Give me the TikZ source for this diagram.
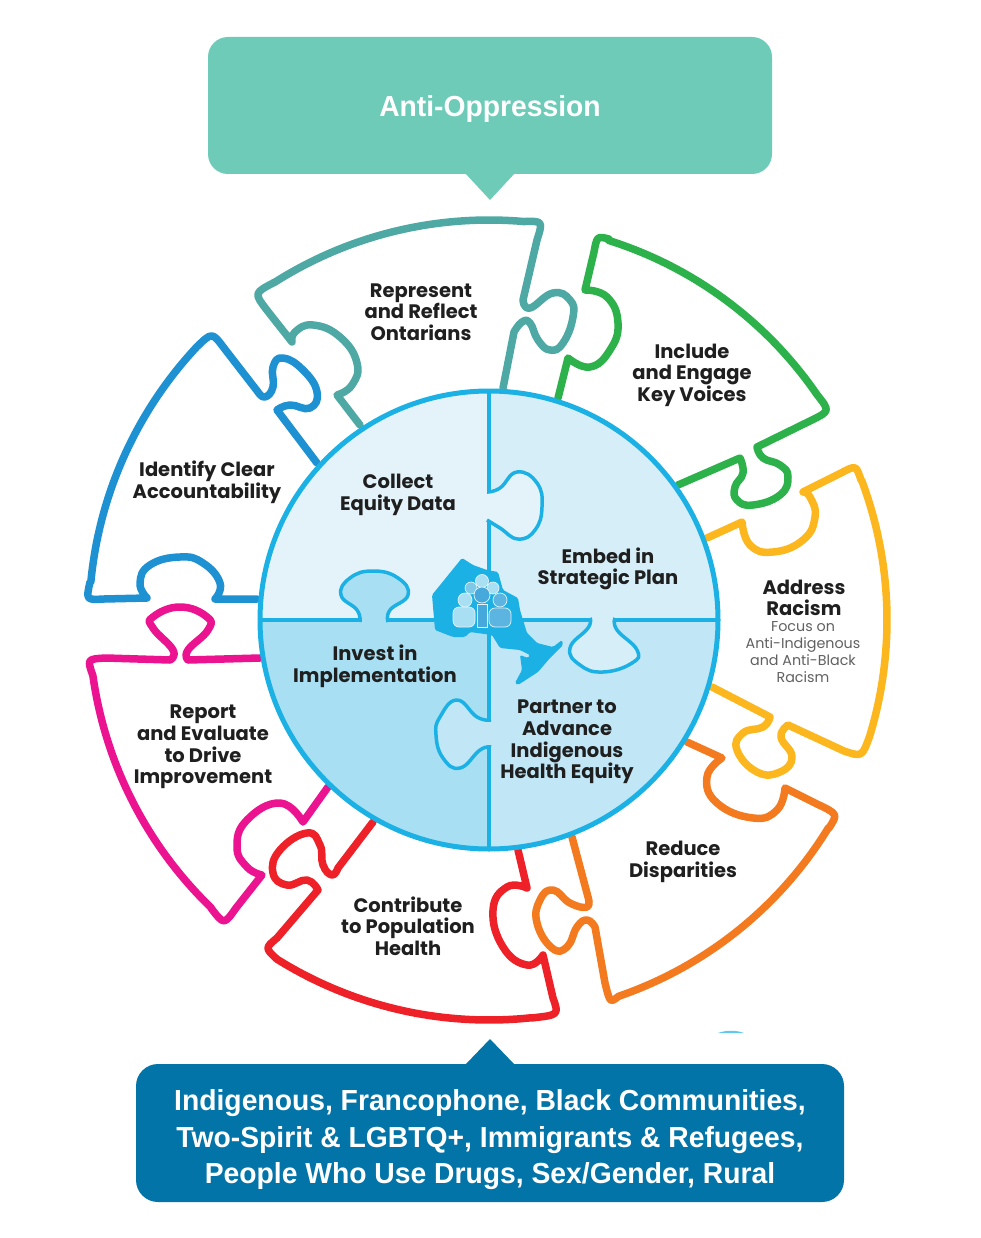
\documentclass[tikz,border=0pt]{standalone}
\usepackage{fontspec}
\setmainfont{Poppins}
\newfontfamily\bannerfont{Liberation Sans}
\usepackage{xcolor}
\definecolor{tealline}{HTML}{4EA9A5}
\definecolor{greenline}{HTML}{2DB14B}
\definecolor{yellowline}{HTML}{FDB71E}
\definecolor{orangeline}{HTML}{F47A20}
\definecolor{redline}{HTML}{EE2028}
\definecolor{pinkline}{HTML}{EC1390}
\definecolor{blueline}{HTML}{1D91D2}
\definecolor{ringblue}{HTML}{1CB1E4}
\definecolor{quadTL}{HTML}{E4F3FA}
\definecolor{quadTR}{HTML}{D6EEF8}
\definecolor{quadBR}{HTML}{C1E6F6}
\definecolor{quadBL}{HTML}{A8DFF2}
\definecolor{topbanner}{HTML}{6DCBB8}
\definecolor{lowbanner}{HTML}{0274A8}
% rim of the puzzle, around the centre of the disc
\newcommand{\rimarc}[3]{-- plot[domain=#2:#3, samples=40] ({489+#1*cos(\x)},{620-#1*sin(\x)})}

\begin{document}
\begin{tikzpicture}[
    x=1pt, y=-1pt,
    piece/.style={line width=7.5pt, line join=round, line cap=round},
    curl/.style={smooth, tension=.8},
    tab/.style={line width=3.5pt, draw=ringblue, line join=round},
    label/.style={font=\bfseries\fontsize{19.5}{21.6}\selectfont, align=center, text=black!88, inner sep=0pt},
    sublabel/.style={font=\fontsize{14.3}{16.8}\selectfont, align=center, text=black!62, inner sep=0pt},
    banner/.style={text=white, align=center, inner sep=0pt, xscale=.975},
    person/.style={line width=0.7pt, draw=quadTL}
]
\useasboundingbox (0,0) rectangle (980,1238);
\fill[white] (0,0) rectangle (980,1238);

% Banners
\fill[topbanner, rounded corners=20pt] (208,37) rectangle (772,174);
\fill[topbanner] (465,173) -- (490,200) -- (515,173) -- cycle;
\fill[lowbanner, rounded corners=22pt] (136,1064) rectangle (844,1202);
\fill[lowbanner] (465,1065) -- (490,1039) -- (515,1065) -- cycle;
\fill[ringblue!70] (718,1033) .. controls (726,1030) and (736,1030) .. (744,1033) -- cycle;

% Outer pieces
\draw[piece, tealline] (360,425) -- (337,395)
  -- plot[curl] coordinates {(337,395) (352,385) (357,363) (340,337) (313,325) (295,332) (292,342)}
  -- (266,309) .. controls (254,293) .. (275,282) \rimarc{400}{122.5}{85} .. controls (543,221) .. (537,240)
  -- (523,300)
  -- plot[curl] coordinates {(523,300) (530,308) (553,293) (570,300) (573,317) (563,343) (550,350) (538,340) (530,323) (522,322) (514,332)}
  -- (503,388);

\draw[piece, greenline] (558,398) -- (568,358)
  -- plot[curl] coordinates {(568,358) (590,367) (610,350) (618,323) (607,297) (585,290)}
  -- (594,252) .. controls (597,236) .. (609,239) \rimarc{398}{72.5}{34.5} .. controls (830,411) .. (812,420)
  -- (757,447)
  -- plot[curl] coordinates {(757,447) (763,458) (780,465) (788,477) (780,495) (753,505) (737,500) (735,487) (743,473) (740,458)}
  -- (678,485);

\draw[piece, yellowline] (707,538) -- (742,522)
  -- plot[curl] coordinates {(742,522) (750,545) (773,552) (803,540) (815,517) (810,497) (803,492)}
  -- (841,473) .. controls (856,465) .. (861,480) \rimarc{398}{20.5}{-17} .. controls (862,757) .. (844,751)
  -- (788,725)
  -- plot[curl] coordinates {(788,725) (781,737) (792,757) (780,772) (757,772) (737,750) (743,733) (763,727) (770,717)}
  -- (712,687);

\draw[piece, orangeline] (687,742) -- (722,758)
  -- plot[curl] coordinates {(722,758) (707,777) (717,803) (753,818) (777,810) (785,788)}
  -- (817,804) .. controls (838,814) .. (829,828) \rimarc{398}{-31.5}{-71} .. controls (610,1003) .. (605,983)
  -- (595,927)
  -- plot[curl] coordinates {(595,927) (587,920) (577,927) (567,947) (552,948) (537,923) (540,900) (553,890) (570,903) (587,907) (588,897)}
  -- (572,837);

\draw[piece, redline] (518,850) -- (527,888)
  -- plot[curl] coordinates {(527,888) (507,887) (493,910) (503,947) (527,965) (543,955)}
  -- (553,998) .. controls (559,1015) .. (531,1018) \rimarc{400}{-84}{-122} .. controls (265,948) .. (277,938)
  -- (318,890)
  -- plot[curl] coordinates {(318,890) (307,880) (287,885) (273,873) (280,850) (307,833) (320,845) (323,865) (332,875) (338,868)}
  -- (373,822);

\draw[piece, pinkline] (328,787) -- (303,822)
  -- plot[curl] coordinates {(303,822) (280,803) (247,820) (237,847) (247,867) (262,875)}
  -- (236,908) .. controls (224,925) .. (211,908) \rimarc{400}{-134}{-172} .. controls (87,659) .. (106,658)
  -- (170,660)
  -- plot[curl] coordinates {(170,660) (173,650) (153,628) (153,617) (180,607) (207,617) (208,630) (188,650) (188,660)}
  -- (260,658);

\draw[piece, blueline] (257,599) -- (215,599)
  -- plot[curl] coordinates {(215,599) (220,583) (203,563) (180,557) (150,565) (140,583) (147,598)}
  -- (104,599) .. controls (86,600) .. (90,582) \rimarc{400}{174.5}{137} .. controls (212,332) .. (224,348)
  -- (258,392)
  -- plot[curl] coordinates {(258,392) (265,397) (273,387) (273,367) (283,358) (303,370) (317,392) (310,408) (290,405) (277,410)}
  -- (317,463);

% Centre disc
\begin{scope}
\clip (489,620) circle (229);
\fill[quadTL] (260,391) rectangle (489,620);
\fill[quadTR] (489,391) rectangle (718,620);
\fill[quadBR] (489,620) rectangle (718,849);
\fill[quadBL] (260,620) rectangle (489,849);
\end{scope}
\draw[ringblue, line width=3.5pt] (489,391) -- (489,849);
\draw[ringblue, line width=3.5pt] (260,620) -- (718,620);

% Tabs of the disc
\filldraw[tab, fill=quadTL] plot[curl] coordinates {(487,492) (500,488) (517,472) (537,483) (542,507) (535,530) (518,539) (500,528) (487,520)};
\filldraw[tab, fill=quadTR] plot[curl] coordinates {(590,618) (588,628) (570,648) (580,665) (603,672) (632,663) (637,650) (617,630) (615,618)};
\filldraw[tab, fill=quadBR] plot[curl] coordinates {(491,720) (477,717) (457,700) (440,717) (436,735) (443,758) (460,768) (480,750) (491,747)};
\filldraw[tab, fill=quadBL] plot[curl] coordinates {(360,622) (357,610) (341,595) (350,578) (373,571) (398,578) (408,595) (390,610) (388,622)};
\draw[ringblue, line width=5pt] (489,620) circle (229);

% Ontario and the people on it
\fill[ringblue, rounded corners=1.5pt] (462,558) -- (473,565) -- (487,570) -- (498,572) -- (503,590) -- (518,598) -- (520,610)
  -- (527,633) -- (537,643) -- (553,647) -- (562,640) -- (563,645) -- (550,658) -- (538,672) -- (518,685)
  -- (515,683) -- (522,670) -- (520,655) -- (528,658) -- (530,655) -- (520,650) -- (500,648) -- (492,635)
  -- (470,632) -- (465,637) -- (453,637) -- (435,630) -- (432,595) -- cycle;
\filldraw[person, fill=quadBL] (482,581) circle (6.5);
\filldraw[person, fill=quadBL!70!blueline] (471,588) circle (6);
\filldraw[person, fill=quadBL] (493,588) circle (6);
\filldraw[person, fill=quadBL, rounded corners=6pt] (453,627) -- (453,607) -- (475,607) -- (475,627) -- cycle;
\filldraw[person, fill=quadBL] (465,600) circle (7);
\filldraw[person, fill=quadBL!30!blueline] (477,604) rectangle (487,627);
\filldraw[person, fill=quadBL!30!blueline] (482,595) circle (8);
\filldraw[person, fill=quadBL!45!blueline, rounded corners=6pt] (489,627) -- (489,608) -- (511,608) -- (511,627) -- cycle;
\filldraw[person, fill=quadBL!45!blueline] (500,600) circle (7);

% Labels
\node[banner, font=\bannerfont\bfseries\fontsize{29}{30}\selectfont] (antioppression) at (490,109) {Anti-Oppression};
\node[banner, font=\bannerfont\bfseries\fontsize{29}{36.5}\selectfont] (communities) at (490,1140) {Indigenous, Francophone, Black Communities,\\Two-Spirit \& LGBTQ+, Immigrants \& Refugees,\\People Who Use Drugs, Sex/Gender, Rural};

\node[label] (represent) at (421,312) {Represent\\and Reflect\\Ontarians};
\node[label] (include) at (692,375) {Include\\and Engage\\Key Voices};
\node[label] (racism) at (804,598) {Address\\Racism};
\node[sublabel] (focus) at (803,652) {Focus on\\Anti-Indigenous\\and Anti-Black\\Racism};
\node[label] (reduce) at (683,862) {Reduce\\Disparities};
\node[label] (contribute) at (408,926) {Contribute\\to Population\\Health};
\node[label] (report) at (203,747) {Report\\and Evaluate\\to Drive\\Improvement};
\node[label] (identify) at (207,482) {Identify Clear\\Accountability};
\node[label] (collect) at (398,495) {Collect\\Equity Data};
\node[label] (embed) at (608,569) {Embed in\\Strategic Plan};
\node[label] (invest) at (375,666) {Invest in\\Implementation};
\node[label] (partner) at (567,742) {Partner to\\Advance\\Indigenous\\Health Equity};

\end{tikzpicture}
\end{document}
